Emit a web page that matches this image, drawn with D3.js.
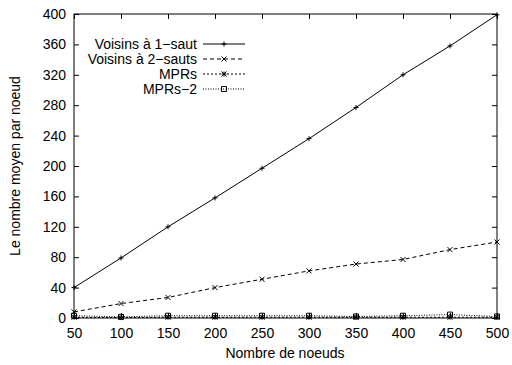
<!DOCTYPE html>
<html><head><meta charset="utf-8">
<script src="https://cdn.jsdelivr.net/npm/d3@7"></script>
<style>body{margin:0;background:#fff}svg{display:block}text{font-family:"Liberation Sans",Arial,sans-serif;font-size:14px;fill:#000}</style>
</head><body><svg id="c" width="512" height="365"></svg>
<script>
const nodes = [50,100,150,200,250,300,350,400,450,500];
const voisins1 = [40,79,120,158,197,236,277,320,358,399];
const voisins2 = [8,19,27,40,51,62,71,77,90,100];
const mprs = [1,0.5,1,1,1,1,1,1,1,1];
const mprs2 = [3,1.5,3,3,3,3,2,3,4.5,2];
const xTicks = [50,100,150,200,250,300,350,400,450,500];
const yTicks = [0,40,80,120,160,200,240,280,320,360,400];
const seriesNames = ["Voisins à 1\u2212saut","Voisins à 2\u2212sauts","MPRs","MPRs\u22122"];

const svg = d3.select("#c");
const L=74,R=497,T=14,B=318;
const FS="14px";
const x = d3.scaleLinear().domain([50,500]).range([L,R]);
const y = d3.scaleLinear().domain([0,400]).range([B,T]);

const series = [
 {name:seriesNames[0], vals:voisins1, dash:null, mark:"plus"},
 {name:seriesNames[1], vals:voisins2, dash:"4,3", mark:"cross"},
 {name:seriesNames[2], vals:mprs, dash:"2,2", mark:"star"},
 {name:seriesNames[3], vals:mprs2, dash:"1,1.5", mark:"square"}
];

const gxB = svg.append("g").attr("transform",`translate(0,${B})`).call(d3.axisBottom(x).tickValues(xTicks).tickSizeInner(-5).tickSizeOuter(0).tickPadding(10));
const gxT = svg.append("g").attr("transform",`translate(0,${T})`).call(d3.axisTop(x).tickValues(xTicks).tickSizeInner(-5).tickSizeOuter(0).tickFormat(""));
const gyL = svg.append("g").attr("transform",`translate(${L},0)`).call(d3.axisLeft(y).tickValues(yTicks).tickSizeInner(-5).tickSizeOuter(0).tickPadding(8));
const gyR = svg.append("g").attr("transform",`translate(${R},0)`).call(d3.axisRight(y).tickValues(yTicks).tickSizeInner(-5).tickSizeOuter(0).tickFormat(""));
[gxB,gxT,gyL,gyR].forEach(g=>{g.select(".domain").remove();g.selectAll("line").attr("stroke","#000");g.selectAll("text").style("font-size",FS).style("font-family","'Liberation Sans',Arial,sans-serif");});
svg.append("rect").attr("x",L).attr("y",T).attr("width",R-L).attr("height",B-T).attr("fill","none").attr("stroke","#000").attr("stroke-width",1);

function marker(g, type, cx, cy){
  const s=2.5;
  const p = d3.path();
  if(type==="plus"||type==="star"){p.moveTo(cx-s,cy);p.lineTo(cx+s,cy);p.moveTo(cx,cy-s);p.lineTo(cx,cy+s);}
  if(type==="cross"||type==="star"){p.moveTo(cx-s,cy-s);p.lineTo(cx+s,cy+s);p.moveTo(cx-s,cy+s);p.lineTo(cx+s,cy-s);}
  if(type==="square"){p.rect(cx-s,cy-s,2*s,2*s);}
  g.append("path").attr("d",p.toString()).attr("fill","none").attr("stroke","#000").attr("stroke-width",1);
}

const line = d3.line().x((d,i)=>x(nodes[i])).y(d=>y(d));
series.forEach(s=>{
  const g = svg.append("g");
  g.append("path").attr("d",line(s.vals)).attr("fill","none").attr("stroke","#000").attr("stroke-width",1).attr("stroke-dasharray",s.dash);
  s.vals.forEach((v,i)=>marker(g,s.mark,x(nodes[i]),y(v)));
});

const lg = svg.append("g");
series.forEach((s,i)=>{
  const yy = 44 + i*15;
  lg.append("text").attr("x",197).attr("y",yy).attr("dy","0.35em").attr("text-anchor","end").style("font-size",FS).text(s.name);
  lg.append("line").attr("x1",203).attr("x2",245).attr("y1",yy).attr("y2",yy).attr("stroke","#000").attr("stroke-dasharray",s.dash);
  marker(lg,s.mark,224,yy);
});

svg.append("text").attr("x",285).attr("y",358).attr("text-anchor","middle").style("font-size",FS).text("Nombre de noeuds");
svg.append("text").attr("transform","translate(20,166) rotate(-90)").attr("text-anchor","middle").style("font-size",FS).text("Le nombre moyen par noeud");
</script></body></html>
